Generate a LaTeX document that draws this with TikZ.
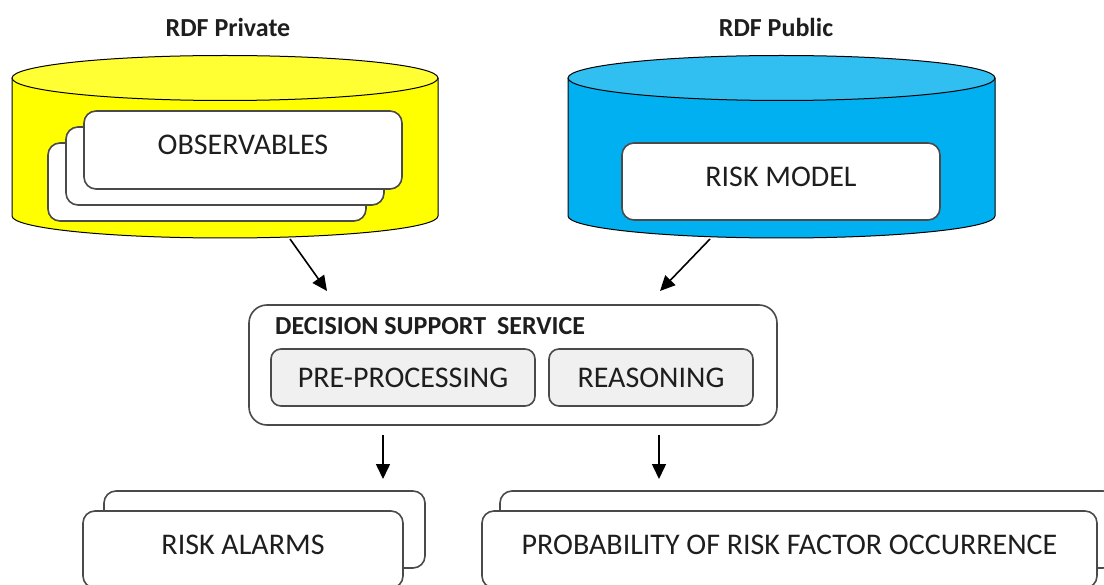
\documentclass[tikz,border=0pt]{standalone}
\usepackage{fontspec}
\setmainfont{Carlito}
\usetikzlibrary{arrows.meta}

\definecolor{cylYellow}{HTML}{FFFF00}
\definecolor{cylYellowTop}{HTML}{FFFF33}
\definecolor{cylBlue}{HTML}{00B0F0}
\definecolor{cylBlueTop}{HTML}{30BFF0}
\definecolor{edge}{HTML}{4A4A4A}
\definecolor{ink}{HTML}{1E1E1E}
\definecolor{panel}{HTML}{F0F0F0}

\begin{document}
\begin{tikzpicture}[x=1pt,y=-1pt,
  card/.style={draw=edge, line width=1.6pt, fill=white, rounded corners=12pt,
    inner sep=0pt, text=ink, font=\fontsize{30}{34}\selectfont, text depth=10pt},
  blank/.style={card, text depth=0pt},
  panelbox/.style={draw=edge, line width=1.6pt, fill=panel, rounded corners=10pt,
    inner sep=0pt, text=ink, font=\fontsize{30}{34}\selectfont},
  heading/.style={text=ink, inner sep=0pt, font=\bfseries\fontsize{26}{30}\selectfont},
  flow/.style={draw=black, line width=1.6pt, -{Triangle[length=15pt,width=14pt]}},
  cylside/.style={draw=black, line width=1pt}
]
\useasboundingbox (0,0) rectangle (1104,585);
\clip (0,0) rectangle (1104,585);

% ---- private store (yellow cylinder) ----
\fill[cylYellow] (12,78) -- (12,216)
  arc[start angle=180, end angle=0, x radius=213, y radius=22] -- (438,78) -- cycle;
\draw[cylside] (12,78) -- (12,216)
  arc[start angle=180, end angle=0, x radius=213, y radius=22] -- (438,78);
\draw[cylside, fill=cylYellowTop] (225,78) ellipse[x radius=213, y radius=22.5];
\node[heading] (privLabel) at (228,27) {RDF Private};

% stacked observable records
\node[blank, minimum width=318pt, minimum height=78pt] (obsBack) at (207,182) {};
\node[blank, minimum width=318pt, minimum height=78pt] (obsMid) at (225,166) {};
\node[card, minimum width=318pt, minimum height=78pt] (obs) at (243,150) {OBSERVABLES};

% ---- public store (blue cylinder) ----
\fill[cylBlue] (568,78) -- (568,216)
  arc[start angle=180, end angle=0, x radius=213.5, y radius=22] -- (995,78) -- cycle;
\draw[cylside] (568,78) -- (568,216)
  arc[start angle=180, end angle=0, x radius=213.5, y radius=22] -- (995,78);
\draw[cylside, fill=cylBlueTop] (781.5,78) ellipse[x radius=213.5, y radius=22.5];
\node[heading] (pubLabel) at (776,27) {RDF Public};

\node[card, minimum width=318pt, minimum height=77pt] (model) at (781,181.5) {RISK MODEL};

% ---- decision support service ----
\node[draw=edge, line width=1.6pt, fill=white, rounded corners=18pt,
  minimum width=528pt, minimum height=120pt] (dss) at (513,365) {};
\node[heading, anchor=west] (dssLabel) at (275,326) {DECISION SUPPORT\hspace{5pt} SERVICE};
\node[panelbox, minimum width=264pt, minimum height=57pt] (prep) at (403,377.5) {PRE-PROCESSING};
\node[panelbox, minimum width=204pt, minimum height=57pt] (reason) at (651,377.5) {REASONING};

% ---- outputs ----
\node[blank, minimum width=321pt, minimum height=77pt] (alarmBack) at (264.5,529.5) {};
\node[card, minimum width=320pt, minimum height=77pt] (alarm) at (243,549.5) {RISK ALARMS};

\node[blank, minimum width=615pt, minimum height=77pt] (probBack) at (807.5,529.5) {};
\node[card, minimum width=615pt, minimum height=77pt] (prob) at (789.5,549.5) {PROBABILITY OF RISK FACTOR OCCURRENCE};

% ---- connectors ----
\coordinate (privOut) at (290,239);
\coordinate (privIn) at (327,291);
\coordinate (pubOut) at (710,239);
\coordinate (pubIn) at (660,291);
\coordinate (alarmOut) at (383,435);
\coordinate (alarmIn) at (383,479);
\coordinate (probOut) at (659,435);
\coordinate (probIn) at (659,479);

\draw[flow] (privOut) -- (privIn);
\draw[flow] (pubOut) -- (pubIn);
\draw[flow] (alarmOut) -- (alarmIn);
\draw[flow] (probOut) -- (probIn);
\end{tikzpicture}
\end{document}
